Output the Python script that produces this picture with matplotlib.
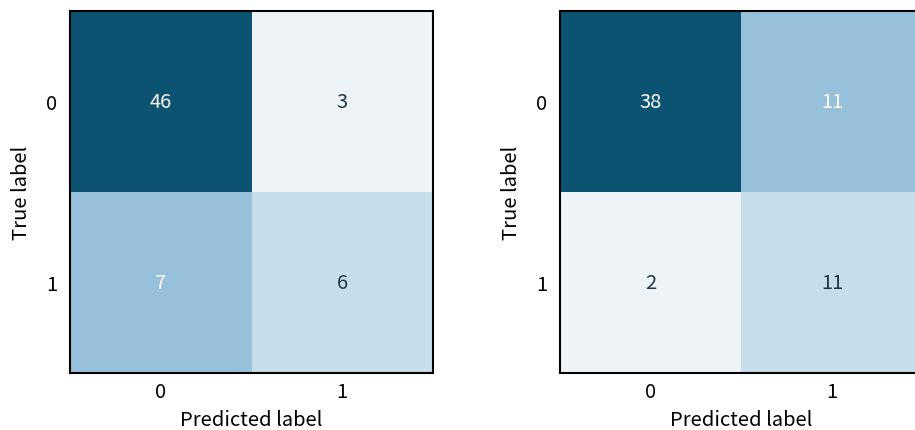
import numpy as np
import matplotlib
matplotlib.use("Agg")
import matplotlib.pyplot as plt
from matplotlib.colors import ListedColormap

plt.rcParams['font.family'] = ['Noto Sans CJK KR', 'DejaVu Sans']

class_labels = ["0", "1"]
cm_left = [[46, 3],
           [7, 6]]
cm_right = [[38, 11],
            [2, 11]]

# shades from darkest (largest count) to lightest (smallest count)
shades = ["#0B5370", "#97C1DA", "#C6DDEA", "#EDF3F7"]
text_on = ["white", "white", "#1E3A4C", "#1E3A4C"]

W, H = 915, 431
fig = plt.figure(figsize=(W / 100, H / 100), dpi=100)
fig.patch.set_facecolor("white")

FS = 14.5


def draw_cm(ax, cm):
    cm = np.asarray(cm)
    flat = cm.ravel()
    order = np.argsort(-flat, kind="stable")
    rank = np.empty_like(order)
    rank[order] = np.arange(flat.size)
    rank = rank.reshape(cm.shape)
    ax.imshow(rank, cmap=ListedColormap(shades), vmin=-0.5, vmax=len(shades) - 0.5,
              aspect="auto", interpolation="nearest")
    for i in range(cm.shape[0]):
        for j in range(cm.shape[1]):
            ax.text(j, i, str(cm[i, j]), ha="center", va="center",
                    fontsize=FS, color=text_on[rank[i, j]])
    ax.set_xticks(range(len(class_labels)))
    ax.set_yticks(range(len(class_labels)))
    ax.set_xticklabels(class_labels, fontsize=FS)
    ax.set_yticklabels(class_labels, fontsize=FS)
    ax.tick_params(axis="x", length=0, pad=6)
    ax.tick_params(axis="y", length=0, pad=9)
    ax.set_xlabel("Predicted label", fontsize=FS, labelpad=5)
    ax.set_ylabel("True label", fontsize=FS, labelpad=10)
    for s in ax.spines.values():
        s.set_linewidth(1.5)
        s.set_color("black")


ax1 = fig.add_axes([70 / W, 1 - 374 / H, 363 / W, 362 / H])
ax2 = fig.add_axes([560 / W, 1 - 374 / H, 363 / W, 362 / H])
draw_cm(ax1, cm_left)
draw_cm(ax2, cm_right)

fig.savefig("out.png", dpi=100)
